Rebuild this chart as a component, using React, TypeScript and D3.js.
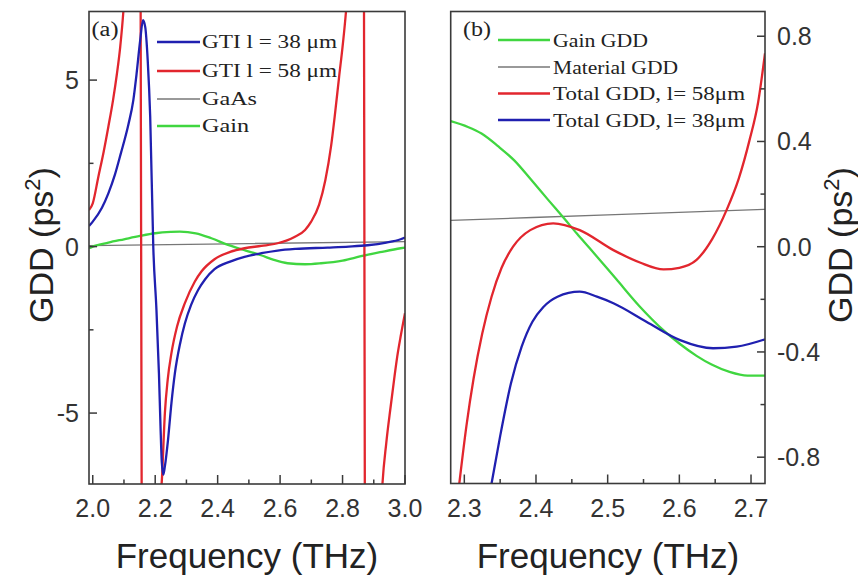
import React from "react";
import * as d3 from "d3";

type Pt = [number, number];

// panel (a) curves (THz, ps^2)
const gti38A: Pt[] = [
  [1.988, 0.62], [2.0, 0.75], [2.029, 1.16], [2.05, 1.6], [2.071, 2.16], [2.09, 2.8],
  [2.114, 3.66], [2.13, 4.4], [2.14, 5.16], [2.152, 6.2], [2.161, 6.8], [2.168, 6.6],
  [2.176, 5.6], [2.184, 3.9], [2.194, -0.05], [2.204, -1.9], [2.212, -3.81],
  [2.217, -5.4], [2.221, -6.45], [2.226, -6.85], [2.231, -6.6], [2.241, -5.81], [2.252, -4.7], [2.263, -3.81],
  [2.28, -2.9], [2.295, -2.31], [2.315, -1.75], [2.337, -1.31], [2.36, -0.98], [2.39, -0.68],
  [2.44, -0.45], [2.486, -0.31], [2.54, -0.2], [2.592, -0.12], [2.65, -0.07], [2.752, -0.03],
  [2.82, 0.0], [2.88, 0.04], [2.94, 0.12], [2.986, 0.22], [3.0, 0.27],
];
const gti58A: Pt[] = [
  [1.988, 1.1], [2.0, 1.3], [2.018, 2.1], [2.035, 2.85], [2.05, 3.6], [2.065, 4.4],
  [2.077, 5.16], [2.088, 6.0], [2.098, 7.06], [2.11, 9], [2.125, 13], [2.14, 20],
  [2.145, 30], [2.165, -30], [2.18, -18], [2.2, -11], [2.215, -8], [2.222, -6.9],
  [2.231, -5.0], [2.24, -4.0], [2.252, -3.2], [2.27, -2.4], [2.295, -1.7], [2.327, -1.05],
  [2.348, -0.75], [2.39, -0.38], [2.44, -0.16], [2.486, -0.05], [2.54, 0.02], [2.592, 0.1],
  [2.646, 0.29], [2.68, 0.5], [2.699, 0.74], [2.725, 1.26], [2.745, 2.0], [2.763, 3.0],
  [2.776, 4.0], [2.789, 5.1], [2.8, 6.0], [2.811, 7.06], [2.83, 10], [2.85, 18],
  [2.862, 30], [2.878, -30], [2.895, -16], [2.91, -11], [2.928, -7.1], [2.94, -5.9],
  [2.954, -4.81], [2.965, -4.0], [2.975, -3.31], [2.987, -2.65], [3.0, -2.0],
];
const gaasA: Pt[] = [[1.988, 0.03], [2.5, 0.09], [3.0, 0.15]];
const gainA: Pt[] = [
  [1.988, -0.05], [2.0, 0.0], [2.05, 0.12], [2.1, 0.22], [2.151, 0.32], [2.2, 0.4],
  [2.25, 0.44], [2.279, 0.45], [2.33, 0.4], [2.38, 0.25], [2.433, 0.05], [2.49, -0.12],
  [2.539, -0.26], [2.58, -0.4], [2.624, -0.5], [2.68, -0.53], [2.731, -0.5], [2.8, -0.42],
  [2.859, -0.29], [2.92, -0.17], [2.986, -0.05], [3.0, -0.03],
];

// panel (b) curves
const gainB: Pt[] = [
  [2.281, 0.477], [2.305, 0.455], [2.324, 0.43], [2.347, 0.382], [2.37, 0.327], [2.393, 0.255],
  [2.417, 0.178], [2.44, 0.105], [2.457, 0.05], [2.475, -0.006], [2.5125, -0.125], [2.545, -0.228],
  [2.578, -0.318], [2.6, -0.368], [2.624, -0.415], [2.645, -0.448], [2.67, -0.476], [2.695, -0.49],
  [2.7195, -0.49],
];
const materialB: Pt[] = [[2.281, 0.1], [2.5, 0.121], [2.7195, 0.142]];
const total58B: Pt[] = [
  [2.293, -0.9], [2.303, -0.68], [2.313, -0.5], [2.325, -0.33], [2.338, -0.19], [2.352, -0.08],
  [2.368, 0.0], [2.392, 0.063], [2.424, 0.089], [2.461, 0.063], [2.508, -0.013], [2.545, -0.06],
  [2.578, -0.086], [2.6, -0.08], [2.624, -0.05], [2.646, 0.03], [2.666, 0.14], [2.683, 0.26],
  [2.698, 0.406], [2.71, 0.55], [2.7195, 0.735],
];
const total38B: Pt[] = [
  [2.338, -0.9], [2.35, -0.72], [2.365, -0.52], [2.38, -0.38], [2.395, -0.285], [2.41, -0.23],
  [2.43, -0.19], [2.461, -0.171], [2.485, -0.19], [2.508, -0.215], [2.554, -0.285], [2.601, -0.355],
  [2.647, -0.386], [2.68, -0.38], [2.7195, -0.352],
];

const ticksAX = [2.0, 2.2, 2.4, 2.6, 2.8, 3.0];
const minorAX = [2.1, 2.3, 2.5, 2.7, 2.9];
const ticksAY = [-5, 0, 5];
const minorAY = [-2.5, 2.5];
const ticksBX = [2.3, 2.4, 2.5, 2.6, 2.7];
const minorBX = [2.35, 2.45, 2.55, 2.65];
const ticksBY = [-0.8, -0.4, 0.0, 0.4, 0.8];
const minorBY = [-0.6, -0.2, 0.2, 0.6];

const legendA = ["GTI l = 38 \u03bcm", "GTI l = 58 \u03bcm", "GaAs", "Gain"];
const legendB = ["Gain GDD", "Material GDD", "Total GDD, l= 58\u03bcm", "Total GDD, l= 38\u03bcm"];

const BLUE = "#2020b0";
const RED = "#e2262e";
const GREEN = "#40d640";
const GRAY = "#777777";
const AXIS = "#3a3a3a";
const SANS = "'Liberation Sans', Arial, sans-serif";
const SERIF = "'Liberation Serif', 'Times New Roman', serif";

const A = { left: 89, right: 405, top: 11.5, bottom: 484 };
const B = { left: 450.7, right: 765, top: 11.5, bottom: 483.5 };

const xA = d3.scaleLinear().domain([1.988, 3.0]).range([A.left, A.right]);
const yA = d3.scaleLinear().domain([-7.13, 7.06]).range([A.bottom, A.top]);
const xB = d3.scaleLinear().domain([2.281, 2.7195]).range([B.left, B.right]);
const yB = d3.scaleLinear().domain([-0.9, 0.894]).range([B.bottom, B.top]);

export default function App() {
  const lineA = d3.line<Pt>().x((d) => xA(d[0])).y((d) => yA(d[1])).curve(d3.curveMonotoneX);
  const lineB = d3.line<Pt>().x((d) => xB(d[0])).y((d) => yB(d[1])).curve(d3.curveMonotoneX);

  const seriesA = [
    { d: gaasA, c: GRAY, w: 1.3 },
    { d: gainA, c: GREEN, w: 2.3 },
    { d: gti58A, c: RED, w: 2.3 },
    { d: gti38A, c: BLUE, w: 2.3 },
  ];
  const seriesB = [
    { d: materialB, c: GRAY, w: 1.3 },
    { d: gainB, c: GREEN, w: 2.3 },
    { d: total58B, c: RED, w: 2.3 },
    { d: total38B, c: BLUE, w: 2.3 },
  ];
  const legColA = [BLUE, RED, GRAY, GREEN];
  const legWA = [2.5, 2.5, 1.4, 2.5];
  const legLenA = [135, 135, 55, 47];
  const legYA = [42, 71, 99, 126];
  const legColB = [GREEN, GRAY, RED, BLUE];
  const legWB = [2.5, 1.4, 2.5, 2.5];
  const legLenB = [95, 125, 192, 192];
  const legYB = [40, 67, 93.5, 120];

  return (
    <svg width={858} height={581} style={{ position: "absolute", left: 0, top: 0, background: "#fff" }}>
      <defs>
        <clipPath id="clipA">
          <rect x={A.left} y={A.top} width={A.right - A.left} height={A.bottom - A.top} />
        </clipPath>
        <clipPath id="clipB">
          <rect x={B.left} y={B.top} width={B.right - B.left} height={B.bottom - B.top} />
        </clipPath>
      </defs>

      {/* panel (a) */}
      <g clipPath="url(#clipA)" fill="none" strokeLinejoin="round">
        {seriesA.map((s, i) => (
          <path key={i} d={lineA(s.d) || ""} stroke={s.c} strokeWidth={s.w} />
        ))}
      </g>
      <rect x={A.left} y={A.top} width={A.right - A.left} height={A.bottom - A.top} fill="none" stroke={AXIS} strokeWidth={1.6} />
      {ticksAX.map((t) => (
        <g key={"ax" + t}>
          <line x1={xA(t)} x2={xA(t)} y1={A.bottom} y2={A.bottom - 9} stroke={AXIS} strokeWidth={1.5} />
          <text x={xA(t)} y={517} textAnchor="middle" fontFamily={SANS} fontSize={25} fill="#333">{t.toFixed(1)}</text>
        </g>
      ))}
      {minorAX.map((t) => (
        <line key={"amx" + t} x1={xA(t)} x2={xA(t)} y1={A.bottom} y2={A.bottom - 4.5} stroke={AXIS} strokeWidth={1.5} />
      ))}
      {ticksAY.map((t) => (
        <g key={"ay" + t}>
          <line x1={A.left} x2={A.left + 8} y1={yA(t)} y2={yA(t)} stroke={AXIS} strokeWidth={1.5} />
          <text x={79} y={yA(t) + 9} textAnchor="end" fontFamily={SANS} fontSize={25} fill="#333">{String(t)}</text>
        </g>
      ))}
      {minorAY.map((t) => (
        <line key={"amy" + t} x1={A.left} x2={A.left + 4.5} y1={yA(t)} y2={yA(t)} stroke={AXIS} strokeWidth={1.5} />
      ))}
      <text x={91.5} y={35.5} fontFamily={SERIF} fontSize={20} textLength={27} lengthAdjust="spacingAndGlyphs" fill="#222">(a)</text>
      {legendA.map((s, i) => (
        <g key={"la" + i}>
          <line x1={157} x2={200} y1={legYA[i]} y2={legYA[i]} stroke={legColA[i]} strokeWidth={legWA[i]} />
          <text x={202} y={legYA[i] + 5.5} fontFamily={SERIF} fontSize={19} textLength={legLenA[i]} lengthAdjust="spacingAndGlyphs" fill="#222">{s}</text>
        </g>
      ))}
      <text x={247} y={568} textAnchor="middle" fontFamily={SANS} fontSize={35} fill="#222">Frequency (THz)</text>
      <text transform="translate(53,245) rotate(-90)" textAnchor="middle" fontFamily={SANS} fontSize={34} fill="#222">
        GDD (ps<tspan dy={-13} fontSize={22}>2</tspan><tspan dy={13}>)</tspan>
      </text>

      {/* panel (b) */}
      <g clipPath="url(#clipB)" fill="none" strokeLinejoin="round">
        {seriesB.map((s, i) => (
          <path key={i} d={lineB(s.d) || ""} stroke={s.c} strokeWidth={s.w} />
        ))}
      </g>
      <rect x={B.left} y={B.top} width={B.right - B.left} height={B.bottom - B.top} fill="none" stroke={AXIS} strokeWidth={1.6} />
      {ticksBX.map((t) => (
        <g key={"bx" + t}>
          <line x1={xB(t)} x2={xB(t)} y1={B.bottom} y2={B.bottom - 9} stroke={AXIS} strokeWidth={1.5} />
          <text x={xB(t)} y={517} textAnchor="middle" fontFamily={SANS} fontSize={25} fill="#333">{t.toFixed(1)}</text>
        </g>
      ))}
      {minorBX.map((t) => (
        <line key={"bmx" + t} x1={xB(t)} x2={xB(t)} y1={B.bottom} y2={B.bottom - 4.5} stroke={AXIS} strokeWidth={1.5} />
      ))}
      {ticksBY.map((t) => (
        <g key={"by" + t}>
          <line x1={B.right} x2={B.right - 8} y1={yB(t)} y2={yB(t)} stroke={AXIS} strokeWidth={1.5} />
          <text x={777} y={yB(t) + 9} textAnchor="start" fontFamily={SANS} fontSize={25} fill="#333">{t.toFixed(1)}</text>
        </g>
      ))}
      {minorBY.map((t) => (
        <line key={"bmy" + t} x1={B.right} x2={B.right - 4.5} y1={yB(t)} y2={yB(t)} stroke={AXIS} strokeWidth={1.5} />
      ))}
      <text x={463} y={35.5} fontFamily={SERIF} fontSize={20} textLength={28} lengthAdjust="spacingAndGlyphs" fill="#222">(b)</text>
      {legendB.map((s, i) => (
        <g key={"lb" + i}>
          <line x1={498} x2={550} y1={legYB[i]} y2={legYB[i]} stroke={legColB[i]} strokeWidth={legWB[i]} />
          <text x={553} y={legYB[i] + 6.5} fontFamily={SERIF} fontSize={19} textLength={legLenB[i]} lengthAdjust="spacingAndGlyphs" fill="#222">{s}</text>
        </g>
      ))}
      <text x={608} y={568} textAnchor="middle" fontFamily={SANS} fontSize={35} fill="#222">Frequency (THz)</text>
      <text transform="translate(852,245) rotate(-90)" textAnchor="middle" fontFamily={SANS} fontSize={34} fill="#222">
        GDD (ps<tspan dy={-13} fontSize={22}>2</tspan><tspan dy={13}>)</tspan>
      </text>
    </svg>
  );
}
